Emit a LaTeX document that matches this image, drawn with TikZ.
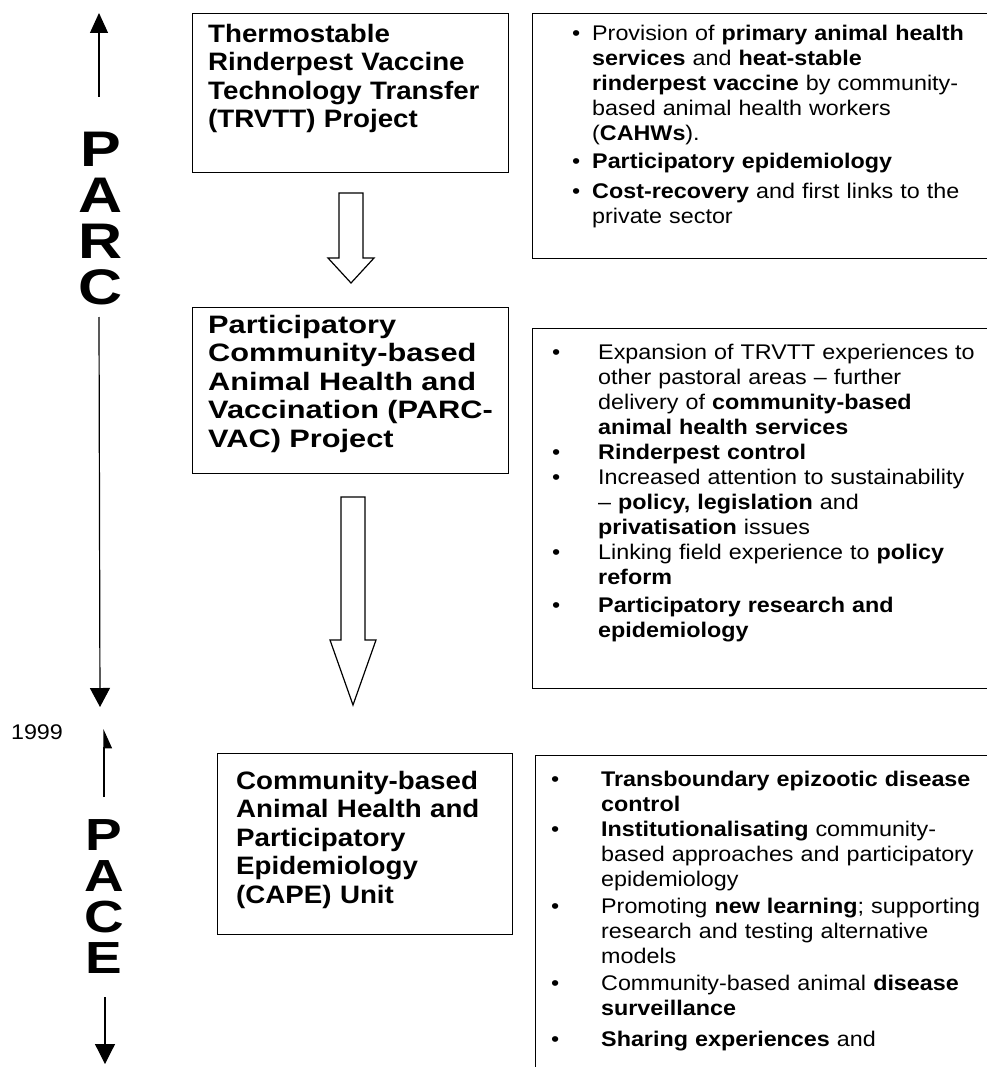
\documentclass[tikz,border=0pt]{standalone}
\usepackage{fontspec}
\setmainfont{Liberation Sans}[FakeStretch=1.1]
\newfontfamily\widefont{Liberation Sans}[FakeStretch=1.22]
\usetikzlibrary{arrows.meta,positioning}

\newcommand{\titlefont}{\fontsize{25.2}{28.5}\selectfont\bfseries}
\newcommand{\listfont}{\fontsize{21.2}{25}\selectfont}
\newcommand{\bitem}[2]{\par\hangindent=#1\hangafter=1\noindent\makebox[#1][l]{\textbullet}#2\par}
\newcommand{\hollowarrow}[4]{\draw[hollow] (#1-12,#2) -- (#1+12,#2) -- (#1+12,#3) -- (#1+23,#3) -- (#1,#4) -- (#1-23,#3) -- (#1-12,#3) -- cycle;}

\begin{document}
\begin{tikzpicture}
[x=1pt,y=-1pt]
\tikzset{box/.style={draw,line width=1.1pt,inner sep=0pt,anchor=north west}}
\tikzset{title/.style={inner sep=0pt,text width=300pt,font=\titlefont}}
\tikzset{list/.style={inner sep=0pt,font=\listfont}}
\tikzset{bigl/.style={inner sep=0pt,align=center,font=\widefont\fontsize{50}{46}\selectfont\bfseries}}
\tikzset{smallbigl/.style={inner sep=0pt,align=center,font=\widefont\fontsize{45}{41}\selectfont\bfseries}}
\tikzset{tline/.style={line width=1.2pt}}
\tikzset{hollow/.style={draw,line width=1.2pt,fill=white,line join=miter}}
\useasboundingbox (0,0) rectangle (986,1067);

% boxes
\node [box,minimum width=316pt,minimum height=159pt] (trvtt) at (192,13) {};
\node [box,minimum width=470pt,minimum height=245pt] (trvttlist) at (532,13) {};
\node [box,minimum width=316pt,minimum height=166pt] (parcvac) at (192,307) {};
\node [box,minimum width=470pt,minimum height=360pt] (parcvaclist) at (532,328) {};
\node [box,minimum width=295pt,minimum height=181pt] (cape) at (217,753) {};
\node [box,minimum width=470pt,minimum height=340pt] (capelist) at (535,755) {};

% texts
\node [title,below right=10.7pt and 16pt of trvtt.north west] (trvtttext)
  {Thermostable\newline Rinderpest Vaccine\newline Technology Transfer\newline (TRVTT) Project};
\node [title,below right=7.7pt and 16pt of parcvac.north west] (parcvactext)
  {\widefont Participatory\newline Community-based\newline Animal Health and\newline Vaccination (PARC-\newline VAC) Project};
\node [title,below right=17.7pt and 19pt of cape.north west] (capetext)
  {Community-based\newline Animal Health and\newline Participatory\newline Epidemiology\newline (CAPE) Unit};

\node [list,text width=418pt,below right=2.2pt and 40pt of trvttlist.north west] (trvttitems) {%
\bitem{20pt}{Provision of \textbf{primary animal health}\newline \textbf{services} and \textbf{heat-stable}\newline \textbf{rinderpest vaccine} by community-\newline based animal health workers\newline (\textbf{CAHWs}).}
\vspace{3pt}
\bitem{20pt}{\textbf{Participatory epidemiology}}
\vspace{5pt}
\bitem{20pt}{\textbf{Cost-recovery} and first links to the\newline private sector}};

\node [list,text width=436pt,below right=6pt and 20pt of parcvaclist.north west] (parcvacitems) {%
\bitem{46pt}{Expansion of TRVTT experiences to\newline other pastoral areas \textendash{} further\newline delivery of \textbf{community-based}\newline \textbf{animal health services}}
\bitem{46pt}{\textbf{Rinderpest control}}
\bitem{46pt}{Increased attention to sustainability\newline \textendash{} \textbf{policy, legislation} and\newline \textbf{privatisation} issues}
\bitem{46pt}{Linking field experience to \textbf{policy}\newline \textbf{reform}}
\vspace{3pt}
\bitem{46pt}{\textbf{Participatory research and}\newline \textbf{epidemiology}}};

\node [list,text width=436pt,below right=6pt and 16pt of capelist.north west] (capeitems) {%
\bitem{50pt}{\textbf{Transboundary epizootic disease}\newline \textbf{control}}
\bitem{50pt}{\textbf{Institutionalisating} community-\newline based approaches and participatory\newline epidemiology}
\vspace{2pt}
\bitem{50pt}{Promoting \textbf{new learning}; supporting\newline research and testing alternative\newline models}
\vspace{2pt}
\bitem{50pt}{Community-based animal \textbf{disease}\newline \textbf{surveillance}}
\vspace{6pt}
\bitem{50pt}{\textbf{Sharing experiences} and}};

% hollow arrows
\hollowarrow{351}{193}{258}{283}
\hollowarrow{353}{497}{640}{705}

% time line
\node [bigl] (parc) at (101,219) {P\\A\\R\\C};
\node [smallbigl] (pace) at (104,897) {P\\A\\C\\E};
\node [font=\listfont] (year) at (37,732) {1999};

\coordinate (parctop) at (99,13);
\coordinate (parcbot) at (100,707);
\coordinate (pacetop) at (104,729);
\coordinate (pacebot) at (105,1064);

\draw [tline,-{Triangle[length=20pt,width=18pt]}] (99,97) -- (parctop);
\draw [tline,-{Triangle[length=19pt,width=20pt]}] (99,317) -- (parcbot);
\draw [tline,-{Triangle[length=18pt,width=16pt,harpoon,swap]}] (104,797) -- (pacetop);
\draw [tline,-{Triangle[length=20pt,width=20pt]}] (105,997) -- (pacebot);

\end{tikzpicture}
\end{document}
